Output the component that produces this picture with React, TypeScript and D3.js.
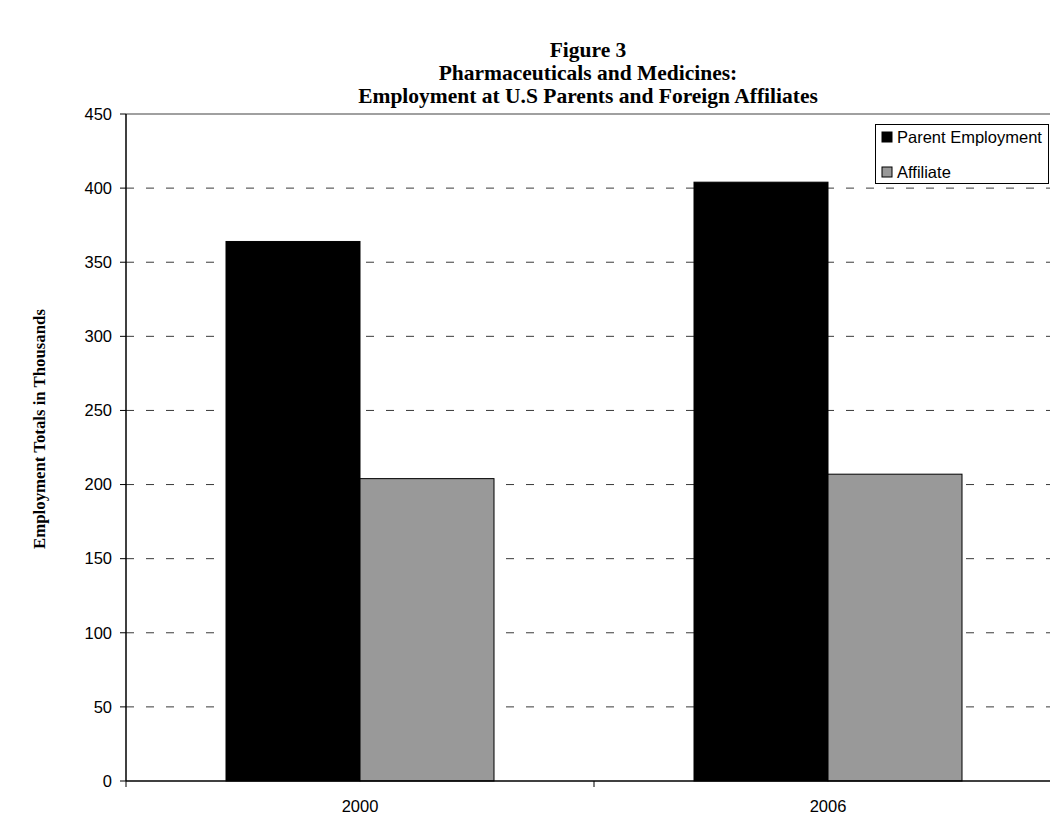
import React from "react";
import * as d3 from "d3";

// Employment totals (thousands) for U.S. parents and their foreign affiliates
const years = ["2000", "2006"];
const seriesNames = ["Parent Employment", "Affiliate"];
const parentEmployment = [364, 404];
const affiliateEmployment = [204, 207];
const yTicks = [0, 50, 100, 150, 200, 250, 300, 350, 400, 450];
const titleLines = [
  "Figure 3",
  "Pharmaceuticals and Medicines:",
  "Employment at U.S Parents and Foreign Affiliates",
];
const yAxisTitle = "Employment Totals in Thousands";

const W = 1050;
const H = 817;
const plot = { left: 126, right: 1062, top: 114, bottom: 781 };
const fills = ["#000000", "#999999"];
const sans = "'Liberation Sans', Arial, sans-serif";
const serif = "'Liberation Serif', 'Times New Roman', serif";

export default function App() {
  const x = d3.scaleBand<string>().domain(years).range([plot.left, plot.right]);
  const cat = x.bandwidth();
  const groupW = cat * (268 / 468);
  const inner = d3
    .scaleBand<string>()
    .domain(seriesNames)
    .range([(cat - groupW) / 2, (cat + groupW) / 2]);
  const y = d3.scaleLinear().domain([0, 450]).range([plot.bottom, plot.top]);

  const values = [parentEmployment, affiliateEmployment];

  return (
    <svg
      width={W}
      height={H}
      style={{ position: "absolute", left: 0, top: 0, background: "#fff" }}
    >
      {/* title */}
      {titleLines.map((t, i) => (
        <text
          key={t}
          x={588}
          y={57 + i * 23}
          textAnchor="middle"
          fontFamily={serif}
          fontWeight="bold"
          fontSize={21.5}
          fill="#000"
        >
          {t}
        </text>
      ))}

      {/* gridlines */}
      {yTicks
        .filter((t) => t > 0 && t < 450)
        .map((t) => (
          <line
            key={t}
            x1={plot.left}
            x2={plot.right}
            y1={y(t)}
            y2={y(t)}
            stroke="#3a3a3a"
            strokeWidth={1}
            strokeDasharray="8,12"
          />
        ))}
      <line
        x1={plot.left}
        x2={plot.right}
        y1={y(450)}
        y2={y(450)}
        stroke="#808080"
        strokeWidth={1.5}
      />

      {/* bars */}
      {years.map((yr, i) =>
        seriesNames.map((s, j) => {
          const v = values[j][i];
          const bx = (x(yr) as number) + (inner(s) as number);
          return (
            <rect
              key={yr + s}
              x={bx}
              y={y(v)}
              width={inner.bandwidth()}
              height={y(0) - y(v)}
              fill={fills[j]}
              stroke="#000"
              strokeWidth={1}
            />
          );
        })
      )}

      {/* y axis */}
      <line x1={plot.left} x2={plot.left} y1={plot.top} y2={plot.bottom} stroke="#000" strokeWidth={1.5} />
      {yTicks.map((t) => (
        <g key={t}>
          <line x1={plot.left - 6} x2={plot.left} y1={y(t)} y2={y(t)} stroke="#000" strokeWidth={1} />
          <text
            x={plot.left - 14}
            y={y(t)}
            dy="0.35em"
            textAnchor="end"
            fontFamily={sans}
            fontSize={16.5}
            fill="#000"
          >
            {t}
          </text>
        </g>
      ))}

      {/* x axis */}
      <line x1={plot.left} x2={plot.right} y1={plot.bottom} y2={plot.bottom} stroke="#000" strokeWidth={1.5} />
      {[plot.left, ...years.map((yr) => (x(yr) as number) + cat)].map((px, i) => (
        <line key={i} x1={px} x2={px} y1={plot.bottom} y2={plot.bottom + 6} stroke="#000" strokeWidth={1} />
      ))}
      {years.map((yr) => (
        <text
          key={yr}
          x={(x(yr) as number) + cat / 2}
          y={plot.bottom + 31}
          textAnchor="middle"
          fontFamily={sans}
          fontSize={16.5}
          fill="#000"
        >
          {yr}
        </text>
      ))}

      {/* y axis title */}
      <text
        transform={`translate(45,429) rotate(-90)`}
        textAnchor="middle"
        fontFamily={serif}
        fontWeight="bold"
        fontSize={16.8}
        fill="#000"
      >
        {yAxisTitle}
      </text>

      {/* legend */}
      <g>
        <rect x={875.5} y={124.5} width={173} height={59} fill="#fff" stroke="#000" strokeWidth={1} />
        {seriesNames.map((s, j) => (
          <g key={s} transform={`translate(882,${137 + j * 35})`}>
            <rect x={0} y={-5} width={10} height={10} fill={fills[j]} stroke="#000" strokeWidth={1} />
            <text x={15} y={0} dy="0.35em" fontFamily={sans} fontSize={16.5} fill="#000">
              {s}
            </text>
          </g>
        ))}
      </g>
    </svg>
  );
}
